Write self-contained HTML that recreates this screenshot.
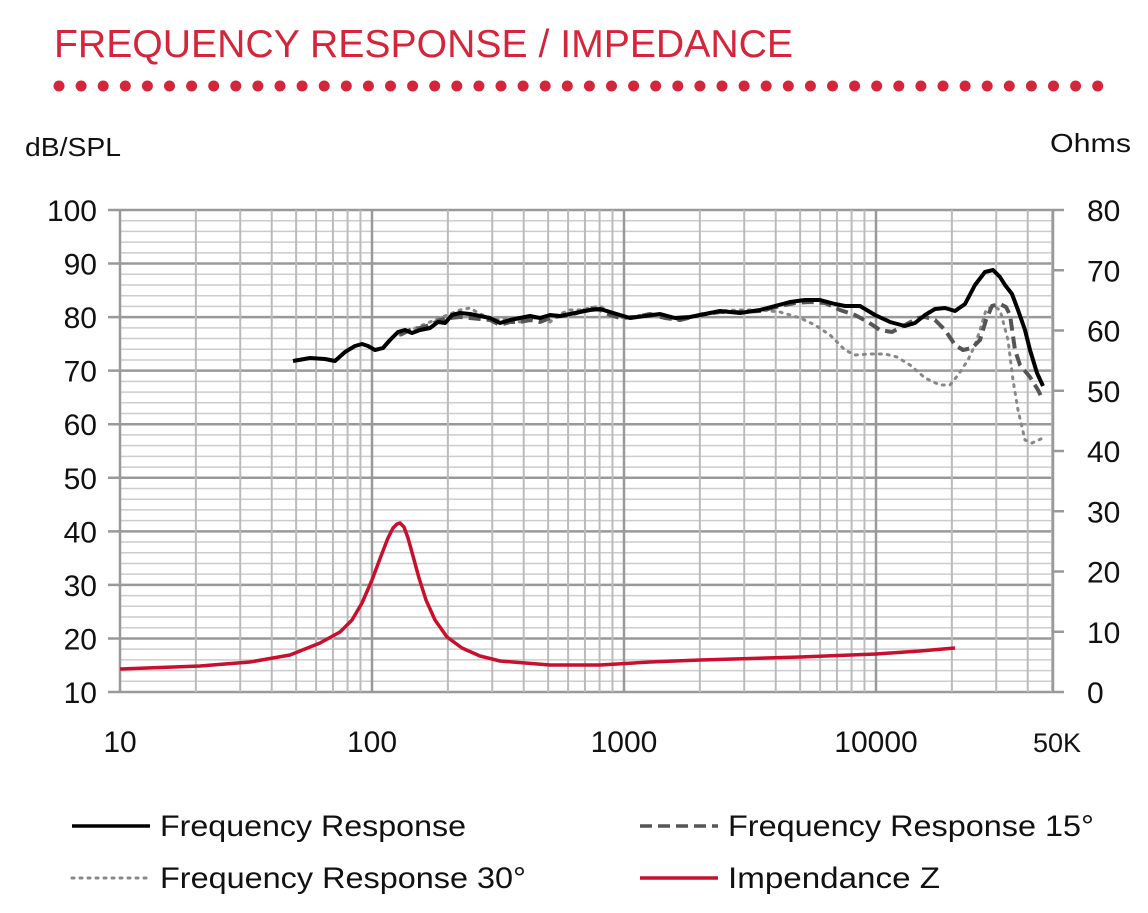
<!DOCTYPE html><html><head><style>body{margin:0;background:#fff}svg{display:block}</style></head><body>
<svg width="1148" height="913" xmlns="http://www.w3.org/2000/svg" font-family="Liberation Sans, sans-serif">
<text x="54" y="57" font-size="39" fill="#d4253a" textLength="739" lengthAdjust="spacingAndGlyphs">FREQUENCY RESPONSE / IMPEDANCE</text>
<g fill="#d4253a" id="dots"></g>
<text x="25" y="156" font-size="26" fill="#111" textLength="96" lengthAdjust="spacingAndGlyphs">dB/SPL</text>
<text x="1050" y="152" font-size="26" fill="#111" textLength="81" lengthAdjust="spacingAndGlyphs">Ohms</text>
<g id="grid"></g>
<g font-size="30" fill="#111" id="lab"></g>
<polyline fill="none" stroke="#888" stroke-width="3" stroke-dasharray="2,6" stroke-linecap="round" points="400,335 420,326 440,318 460,310 470,308 480,314 490,318 500,320 510,318 520,322 530,318 540,318 550,322 560,314 570,310 580,310 590,308 600,306 610,312 620,318 635,316 650,314 665,318 680,320 700,314 720,311 740,310 760,310 780,312 800,318 815,325 830,335 845,350 855,355 870,354 885,354 897,357 910,365 925,378 940,385 950,385 958,375 968,360 975,345 980,330 986,310 993,306 1000,310 1008,340 1013,380 1018,410 1025,440 1032,443 1043,438"/>
<polyline fill="none" stroke="#555" stroke-width="4" stroke-dasharray="12,6" stroke-linejoin="round" points="400,335 410,330 420,328 430,325 440,320 450,318 460,317 470,318 480,319 490,320 500,325 510,322 520,322 530,320 540,322 550,318 560,316 570,315 580,312 590,308 600,310 610,315 620,318 635,317 650,314 665,318 680,320 700,315 720,312 740,312 760,311 780,306 795,303 810,302 825,303 840,310 855,315 868,322 880,330 892,332 905,325 918,318 925,317 935,320 945,330 955,345 963,350 972,348 980,340 986,320 992,306 1000,304 1006,307 1010,315 1015,350 1020,365 1030,377 1038,390 1043,400"/>
<polyline fill="none" stroke="#000" stroke-width="4" stroke-linejoin="round" points="293,361 310,358 325,359 335,361 345,352 355,346 362,344 368,346 375,350 383,348 390,340 398,332 405,330 412,333 420,330 430,328 438,322 445,323 452,315 460,313 470,314 480,316 490,318 500,323 510,320 520,318 530,316 540,318 550,315 560,316 570,314 580,312 590,310 600,309 610,312 620,315 630,318 645,316 660,314 675,318 690,317 705,314 720,311 740,313 760,310 775,306 790,302 805,300 820,300 835,304 845,306 860,306 875,315 890,322 905,326 915,323 925,315 935,309 945,308 955,311 965,304 975,285 985,272 993,270 1000,277 1005,285 1012,294 1018,310 1025,330 1030,350 1037,373 1043,386"/>
<polyline fill="none" stroke="#c8102e" stroke-width="3.5" stroke-linejoin="round" points="120,669 200,666 250,662 290,655 320,643 340,632 352,620 362,603 372,580 381,556 388,538 393,528 397,524 400,523 404,527 408,538 413,556 419,578 426,600 435,620 447,637 462,648 480,656 500,661 550,665 600,665 650,662 700,660 800,657 876,654 920,651 955,648"/>
<g font-size="30" fill="#111">
<line x1="72" y1="826" x2="150" y2="826" stroke="#000" stroke-width="3.5"/><text x="160" y="836" textLength="306" lengthAdjust="spacingAndGlyphs">Frequency Response</text>
<line x1="640" y1="826" x2="718" y2="826" stroke="#555" stroke-width="3.5" stroke-dasharray="12,6"/><text x="728" y="836" textLength="366" lengthAdjust="spacingAndGlyphs">Frequency Response 15°</text>
<line x1="72" y1="878" x2="150" y2="878" stroke="#888" stroke-width="3" stroke-dasharray="2,6" stroke-linecap="round"/><text x="160" y="888" textLength="366" lengthAdjust="spacingAndGlyphs">Frequency Response 30°</text>
<line x1="640" y1="878" x2="718" y2="878" stroke="#c8102e" stroke-width="3.5"/><text x="728" y="888" textLength="212" lengthAdjust="spacingAndGlyphs">Impendance Z</text>
</g>
</svg>
<script>
var ns="http://www.w3.org/2000/svg";
function el(p,t,a,txt){var e=document.createElementNS(ns,t);for(var k in a)e.setAttribute(k,a[k]);if(txt!==undefined)e.textContent=txt;p.appendChild(e);return e;}
var d=document.getElementById("dots");
for(var i=0;i<48;i++)el(d,"circle",{cx:59+i*22.1,cy:86,r:5.5});
var g=document.getElementById("grid"),x0=120,dec=252,yt=210,yb=692;
for(var v=10;v<=100;v+=2){var y=yb-(v-10)*(yb-yt)/90;var maj=v%10==0;
el(g,"line",{x1:maj?108:120,x2:1053,y1:y,y2:y,stroke:maj?"#999":"#ccc","stroke-width":maj?2.5:1.5});}
for(var e=1;e<=4;e++)for(var m=1;m<=9;m++){var f=Math.pow(10,e)*m;if(f>50000)break;var x=x0+dec*(Math.log10(f)-1);
el(g,"line",{x1:x,x2:x,y1:yt,y2:yb,stroke:m==1?"#999":"#bbb","stroke-width":m==1?2.5:2});}
el(g,"line",{x1:1053,x2:1053,y1:yt,y2:yb,stroke:"#999","stroke-width":2.5});
for(var o=0;o<=80;o+=10){var y=yb-o*(yb-yt)/80;el(g,"line",{x1:1053,x2:1064,y1:y,y2:y,stroke:"#999","stroke-width":2.5});}
var L=document.getElementById("lab");
for(var v=10;v<=100;v+=10){var y=yb-(v-10)*(yb-yt)/90;el(L,"text",{x:97,y:y+11,"text-anchor":"end"},v);}
for(var o=0;o<=80;o+=10){var y=yb-o*(yb-yt)/80;el(L,"text",{x:1087,y:y+11},o);}
[["10",120],["100",372],["1000",624],["10000",876]].forEach(function(a){el(L,"text",{x:a[1],y:752,"text-anchor":"middle"},a[0]);});
el(L,"text",{x:1057,y:752,"text-anchor":"middle","font-size":"27"},"50K");
</script>
</body></html>
